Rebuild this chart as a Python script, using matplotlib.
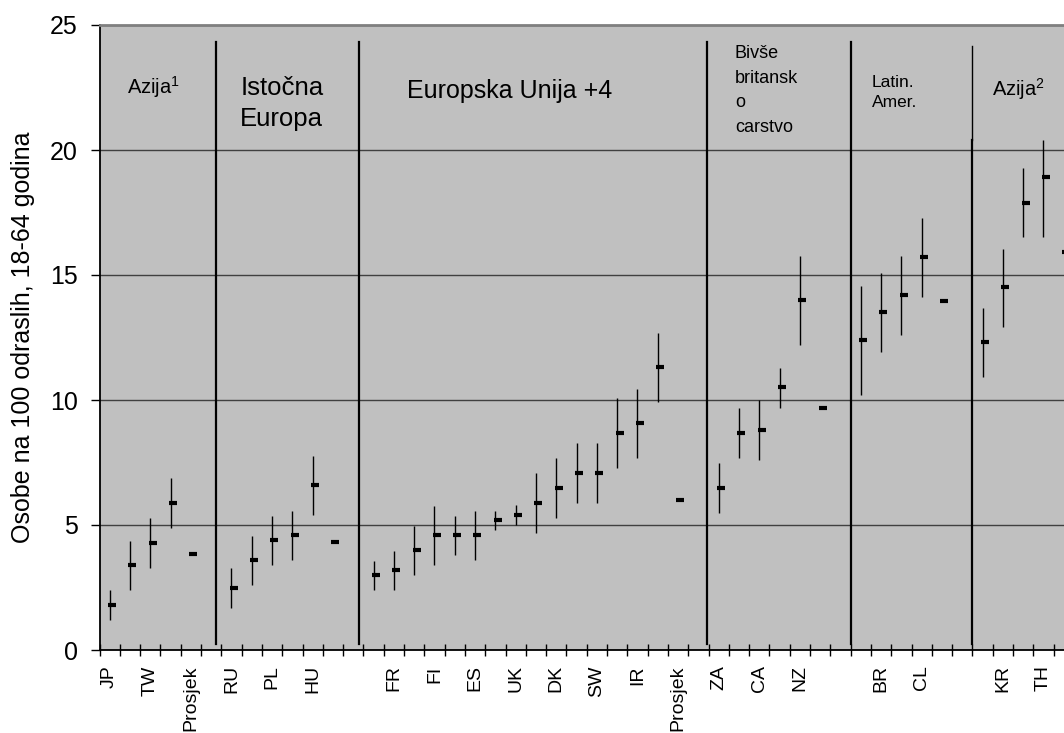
import numpy as np
import matplotlib
matplotlib.use("Agg")
import matplotlib.pyplot as plt

plt.rcParams['font.family'] = ['Liberation Sans', 'DejaVu Sans']
plt.rcParams['mathtext.fontset'] = 'custom'
plt.rcParams['mathtext.rm'] = 'Liberation Sans'
plt.rcParams['mathtext.default'] = 'regular'

# category labels (Excel shows only every second one)
labels = ['JP', '', 'TW', '', 'Prosjek', '',
          'RU', '', 'PL', '', 'HU', '', '',
          '', 'FR', '', 'FI', '', 'ES', '', 'UK', '', 'DK', '', 'SW', '', 'IR', '', 'Prosjek', '',
          'ZA', '', 'CA', '', 'NZ', '', '',
          '', 'BR', '', 'CL', '', '',
          '', 'KR', '', 'TH', '', '']

nan = np.nan
# mean, lower and upper value per category (nan = empty slot)
mean = [1.8, 3.4, 4.3, 5.9, 3.85, nan,
        2.5, 3.6, 4.4, 4.6, 6.6, 4.32, nan,
        3.0, 3.2, 4.0, 4.6, 4.6, 4.6, 5.2, 5.4, 5.9, 6.5, 7.1, 7.1, 8.7, 9.1, 11.3, 6.0, nan,
        6.5, 8.7, 8.8, 10.5, 14.0, 9.7, nan,
        12.4, 13.5, 14.2, 15.7, 13.95, nan,
        12.3, 14.5, 17.9, 18.9, 15.9, nan]
low = [1.2, 2.4, 3.3, 4.9, nan, nan,
       1.7, 2.6, 3.4, 3.6, 5.4, nan, nan,
       2.4, 2.4, 3.0, 3.4, 3.8, 3.6, 4.8, 5.0, 4.7, 5.3, 5.9, 5.9, 7.3, 7.7, 9.9, nan, nan,
       5.5, 7.7, 7.6, 9.7, 12.2, nan, nan,
       10.2, 11.9, 12.6, 14.1, nan, nan,
       10.9, 12.9, 16.5, 16.5, nan, nan]
high = [2.4, 4.37, 5.28, 6.88, nan, nan,
        3.28, 4.57, 5.37, 5.57, 7.76, nan, nan,
        3.57, 3.97, 4.97, 5.77, 5.37, 5.57, 5.57, 5.79, 7.07, 7.67, 8.27, 8.27, 10.07, 10.45, 12.7, nan, nan,
        7.48, 9.7, 10.0, 11.28, 15.74, nan, nan,
        14.56, 15.06, 15.76, 17.28, nan, nan,
        13.67, 16.06, 19.27, 20.41, nan, nan]

separators = [5.24, 12.3, 29.45, 36.53, 42.5]

x = np.arange(len(labels))
mean = np.array(mean)
low = np.array(low)
high = np.array(high)

fig = plt.figure(figsize=(10.64, 7.33), dpi=100)
# axes run past the right edge, like the cropped original
ax = fig.add_axes([99.5 / 1064, 83 / 733, 994.7 / 1064, 625 / 733])
ax.set_facecolor('#c0c0c0')
ax.set_xlim(-0.5, len(labels) - 0.5)
ax.set_ylim(0, 25)

ax.set_yticks([0, 5, 10, 15, 20, 25])
ax.yaxis.grid(True, color='#404040', lw=1.0)
ax.set_axisbelow(True)
ax.tick_params(axis='y', direction='out', length=6.5, width=1, labelsize=18, pad=9)

ax.set_xticks(np.arange(-0.5, len(labels)), [])
ax.tick_params(axis='x', which='major', direction='inout', length=8.5, width=1)
ax.set_xticks(x, labels, minor=True)
ax.tick_params(axis='x', which='minor', length=0, labelsize=14, pad=11, labelrotation=90)

for s in ['left', 'bottom']:
    ax.spines[s].set_linewidth(1.3)
    ax.spines[s].set_color('black')
ax.spines['top'].set_color('#808080')
ax.spines['top'].set_linewidth(2)

ok = ~np.isnan(low)
ax.vlines(x[ok], low[ok], high[ok], color='black', lw=1.0, zorder=3)
ax.plot(x + 0.12, mean, ls='none', marker='_', ms=6, mew=3, color='black', zorder=4)

for i, sx in enumerate(separators):
    if i == len(separators) - 1:
        ax.plot([sx, sx], [24.15, 20.4], color='black', lw=1.0, zorder=2)
        ax.plot([sx, sx], [20.4, 0.25], color='black', lw=1.6, zorder=2)
    else:
        ax.plot([sx, sx], [24.3, 0.25], color='black', lw=1.6, zorder=2)

# group titles
ax.text(0.84, 22.23, 'Azija$^{1}$', fontsize=14.5)
ax.text(6.43, 22.2, 'Istočna', fontsize=18.5)
ax.text(6.43, 20.96, 'Europa', fontsize=18.5)
ax.text(14.66, 22.09, 'Europska Unija +4', fontsize=18)
for txt, yy in zip(['Bivše', 'britansk', 'o', 'carstvo'], [23.67, 22.67, 21.73, 20.73]):
    ax.text(30.8, yy, txt, fontsize=13)
ax.text(37.55, 22.53, 'Latin.', fontsize=12.5)
ax.text(37.55, 21.71, 'Amer.', fontsize=12.5)
ax.text(43.45, 22.16, 'Azija$^{2}$', fontsize=14.5)

fig.text(23 / 1064, 1 - 337.5 / 733, 'Osobe na 100 odraslih, 18-64 godina',
         rotation=90, ha='center', va='center', fontsize=18)

fig.savefig('out.png', dpi=100)
